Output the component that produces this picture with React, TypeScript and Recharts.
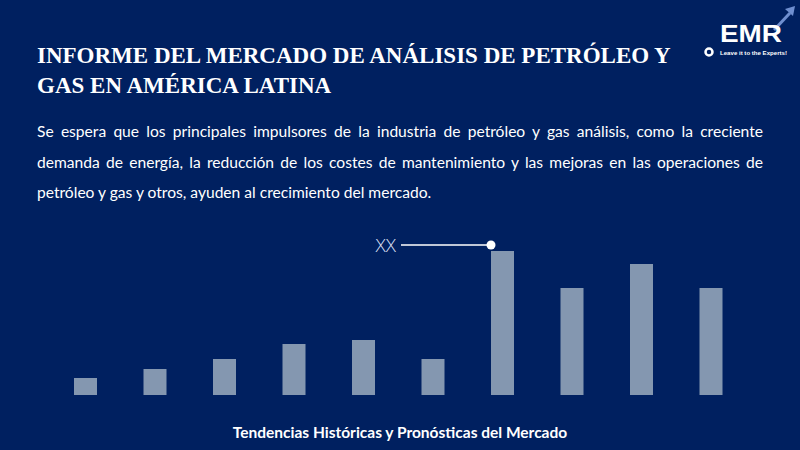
import React from 'react';
import { BarChart, Bar, XAxis, YAxis, LabelList } from 'recharts';

const categories = ['2018', '2019', '2020', '2021', '2022', '2023', '2024', '2025', '2026', '2027'];
const values = [17, 26, 36, 51, 55, 36, 144, 107, 131, 107];
const annotationIndex = 6;
const annotationText = 'XX';

const titleLines = [
  'INFORME DEL MERCADO DE ANÁLISIS DE PETRÓLEO Y',
  'GAS EN AMÉRICA LATINA',
];
const paragraphLines = [
  'Se espera que los principales impulsores de la industria de petróleo y gas análisis, como la creciente',
  'demanda de energía, la reducción de los costes de mantenimiento y las mejoras en las operaciones de',
  'petróleo y gas y otros, ayuden al crecimiento del mercado.',
];
const footer = 'Tendencias Históricas y Pronósticas del Mercado';

const data = categories.map((c, i) => ({ name: c, value: values[i] }));

const Annotation = (props: any) => {
  const { x, y, index } = props;
  if (index !== annotationIndex) return null;
  const cy = y - 6;
  return (
    <g>
      <line x1={x - 90} y1={cy} x2={x} y2={cy} stroke="#ffffff" strokeWidth={1.5} />
      <circle cx={x} cy={cy} r={4.5} fill="#ffffff" />
      <text
        x={x - 95}
        y={cy + 7}
        textAnchor="end"
        fill="#d6deef"
        fontFamily="'Open Sans', sans-serif"
        fontWeight={300}
        fontSize={19}
      >
        {annotationText}
      </text>
    </g>
  );
};

export default function App() {
  return (
    <div
      style={{
        position: 'absolute',
        left: 0,
        top: 0,
        width: 800,
        height: 450,
        background: '#002060',
        overflow: 'hidden',
      }}
    >
      <div
        style={{
          position: 'absolute',
          left: 37,
          top: 41,
          color: '#ffffff',
          fontFamily: "'Liberation Serif', serif",
          fontWeight: 'bold',
          fontSize: 23,
          lineHeight: '30px',
          whiteSpace: 'nowrap',
        }}
      >
        {titleLines.map((l, i) => (
          <div key={i}>{l}</div>
        ))}
      </div>
      <div
        style={{
          position: 'absolute',
          left: 37,
          top: 116,
          width: 726,
          color: '#ffffff',
          fontFamily: "Lato, sans-serif",
          fontSize: 15.6,
          lineHeight: '30.5px',
        }}
      >
        {paragraphLines.map((l, i) => (
          <div
            key={i}
            style={{
              textAlign: i < paragraphLines.length - 1 ? 'justify' : 'left',
              textAlignLast: i < paragraphLines.length - 1 ? 'justify' : 'left',
              whiteSpace: 'nowrap',
            }}
          >
            {l}
          </div>
        ))}
      </div>
      <div
        style={{
          position: 'absolute',
          left: 0,
          width: 800,
          top: 423,
          textAlign: 'center',
          color: '#ffffff',
          fontFamily: 'Lato, sans-serif',
          fontWeight: 'bold',
          fontSize: 15.5,
        }}
      >
        {footer}
      </div>
      {/* Logo */}
      <svg width={100} height={60} style={{ position: 'absolute', left: 700, top: 0 }}>
        <path d="M74 30 L90 13" stroke="#6f8fd0" strokeWidth={3} fill="none" />
        <path d="M85 9 L95 6 L93 16 Z" fill="#6f8fd0" />
        <text
          x={20}
          y={42}
          fill="#ffffff"
          fontFamily="'Liberation Sans', sans-serif"
          fontWeight="bold"
          fontSize={23}
          textLength={62}
          lengthAdjust="spacingAndGlyphs"
        >
          EMR
        </text>
        <circle cx={9} cy={52} r={3.5} fill="none" stroke="#ffffff" strokeWidth={2.5} />
        <text
          x={20}
          y={55}
          fill="#ffffff"
          fontFamily="'Liberation Sans', sans-serif"
          fontWeight="bold"
          fontSize={5.5}
          textLength={67}
          lengthAdjust="spacingAndGlyphs"
        >
          Leave it to the Experts!
        </text>
      </svg>
      <div style={{ position: 'absolute', left: 0, top: 0 }}>
        <BarChart
          width={800}
          height={450}
          data={data}
          margin={{ top: 245, right: 54, bottom: 55, left: 51 }}
        >
          <XAxis dataKey="name" hide />
          <YAxis hide domain={[0, 150]} />
          <Bar dataKey="value" fill="#8497B0" barSize={23} isAnimationActive={false}>
            <LabelList dataKey="value" content={<Annotation />} />
          </Bar>
        </BarChart>
      </div>
    </div>
  );
}
